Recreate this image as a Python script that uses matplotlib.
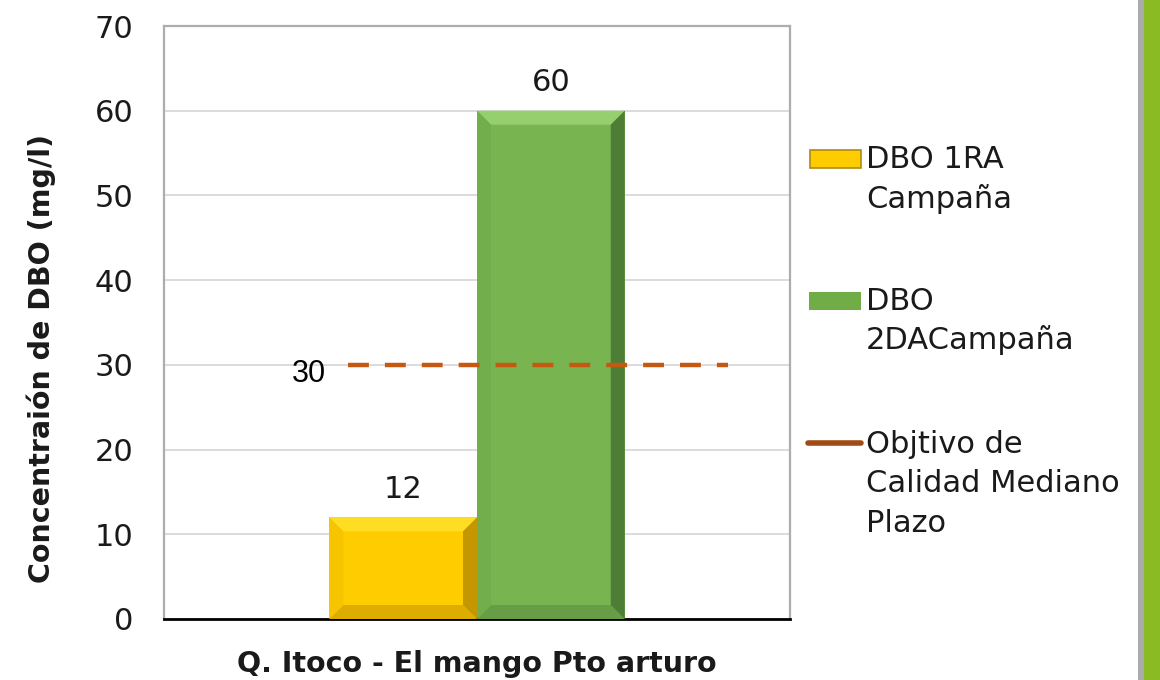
import matplotlib.pyplot as plt
from matplotlib.patches import Polygon, Rectangle
from matplotlib.lines import Line2D

# Data
categories = ["Q. Itoco - El mango Pto arturo"]
series_names = ["DBO 1RA\nCampaña", "DBO\n2DACampaña", "Objtivo de\nCalidad Mediano\nPlazo"]
dbo_1ra = [12]
dbo_2da = [60]
objetivo = 30
y_ticks = [0, 10, 20, 30, 40, 50, 60, 70]

W, H = 1160, 680
plt.rcParams['font.family'] = ['DejaVu Sans']
fig = plt.figure(figsize=(W / 100, H / 100), dpi=100)
ax = fig.add_axes([164 / W, 1 - 619 / H, 626 / W, 593 / H])

width = 0.236
x = list(range(len(categories)))
b1 = ax.bar([i - width / 2 for i in x], dbo_1ra, width, color='#FFCC00', zorder=2)
b2 = ax.bar([i + width / 2 for i in x], dbo_2da, width, color='#78B550', zorder=2)

ax.set_xlim(-0.5, 0.5)
ax.set_ylim(0, 70)
ax.set_yticks(y_ticks)
ax.set_xticks([])
ax.tick_params(axis='y', length=0, pad=22, labelsize=22, labelcolor='#1a1a1a')
ax.grid(axis='y', color='#D9D9D9', lw=1.3, zorder=0)
ax.set_axisbelow(True)
for s in ['left', 'top', 'right']:
    ax.spines[s].set_color('#ADADAD')
    ax.spines[s].set_linewidth(1.6)
ax.spines['bottom'].set_color('black')
ax.spines['bottom'].set_linewidth(2)


# fake Excel bevel on the bars
def bevel(bar, top_c, left_c, right_c, bottom_c):
    x0, y0 = bar.get_x(), bar.get_y()
    x1, y1 = x0 + bar.get_width(), y0 + bar.get_height()
    bx = 14 / 626 * 1.0
    by = 14 / 593 * 70
    faces = [
        ([(x0, y1), (x1, y1), (x1 - bx, y1 - by), (x0 + bx, y1 - by)], top_c),
        ([(x0, y0), (x1, y0), (x1 - bx, y0 + by), (x0 + bx, y0 + by)], bottom_c),
        ([(x0, y0), (x0, y1), (x0 + bx, y1 - by), (x0 + bx, y0 + by)], left_c),
        ([(x1, y0), (x1, y1), (x1 - bx, y1 - by), (x1 - bx, y0 + by)], right_c),
    ]
    for pts, c in faces:
        ax.add_patch(Polygon(pts, closed=True, facecolor=c, edgecolor='none', zorder=3))


for bar in b1:
    bevel(bar, '#FFDD22', '#F7C400', '#C49600', '#DDAE00')
for bar in b2:
    bevel(bar, '#96CF6E', '#72AE4B', '#4E7E36', '#679D45')

# value labels
for bars in (b1, b2):
    for bar in bars:
        ax.annotate(f"{bar.get_height():g}", (bar.get_x() + bar.get_width() / 2, bar.get_height()),
                    xytext=(0, 14), textcoords='offset points', ha='center', va='baseline',
                    fontsize=22, color='#1a1a1a')

# target line
line_x = [-0.206, 0.401]
ax.plot(line_x, [objetivo, objetivo], color='#C65911', lw=3.2, dashes=(4.7, 3.6), zorder=4,
        solid_capstyle='butt', dash_capstyle='butt')
ax.annotate(f"{objetivo}", (line_x[0], objetivo), xytext=(-16, -12), textcoords='offset points',
            ha='right', va='baseline', fontsize=22, family=['Liberation Sans', 'DejaVu Sans'], color='black')

# axis titles
fig.text(477 / W, 1 - 672 / H, categories[0], ha='center', va='baseline', fontsize=20.5,
         fontweight='bold', color='#1a1a1a')
fig.text(41 / W, 1 - 358 / H, "Concentraión de DBO (mg/l)", ha='center', va='center', rotation=90,
         fontsize=20.5, fontweight='bold', color='#1a1a1a')

# legend drawn by hand to mimic the Excel layout
fig.add_artist(Rectangle((810 / W, 1 - 168 / H), 51 / W, 18 / H, transform=fig.transFigure,
                         facecolor='#FFCC00', edgecolor='#B08A10', lw=1.2))
fig.add_artist(Rectangle((809 / W, 1 - 310 / H), 52 / W, 18 / H, transform=fig.transFigure,
                         facecolor='#70AD47', edgecolor='none'))
fig.add_artist(Line2D([808 / W, 861 / W], [1 - 443 / H, 1 - 443 / H], transform=fig.transFigure,
                      color='#A24A14', lw=4, solid_capstyle='round'))
first_baseline = [168, 310, 453]
for name, yb in zip(series_names, first_baseline):
    for k, line in enumerate(name.split("\n")):
        fig.text(866 / W, 1 - (yb + 39.5 * k) / H, line, ha='left', va='baseline',
                 fontsize=22, color='#1a1a1a')

# decorative slide border on the right
fig.add_artist(Rectangle((1138 / W, 0), 6 / W, 1, transform=fig.transFigure,
                         facecolor='#ABABAB', edgecolor='none'))
fig.add_artist(Rectangle((1144 / W, 0), 16 / W, 1, transform=fig.transFigure,
                         facecolor='#8ABB22', edgecolor='none'))

fig.savefig('out.png', dpi=100)
